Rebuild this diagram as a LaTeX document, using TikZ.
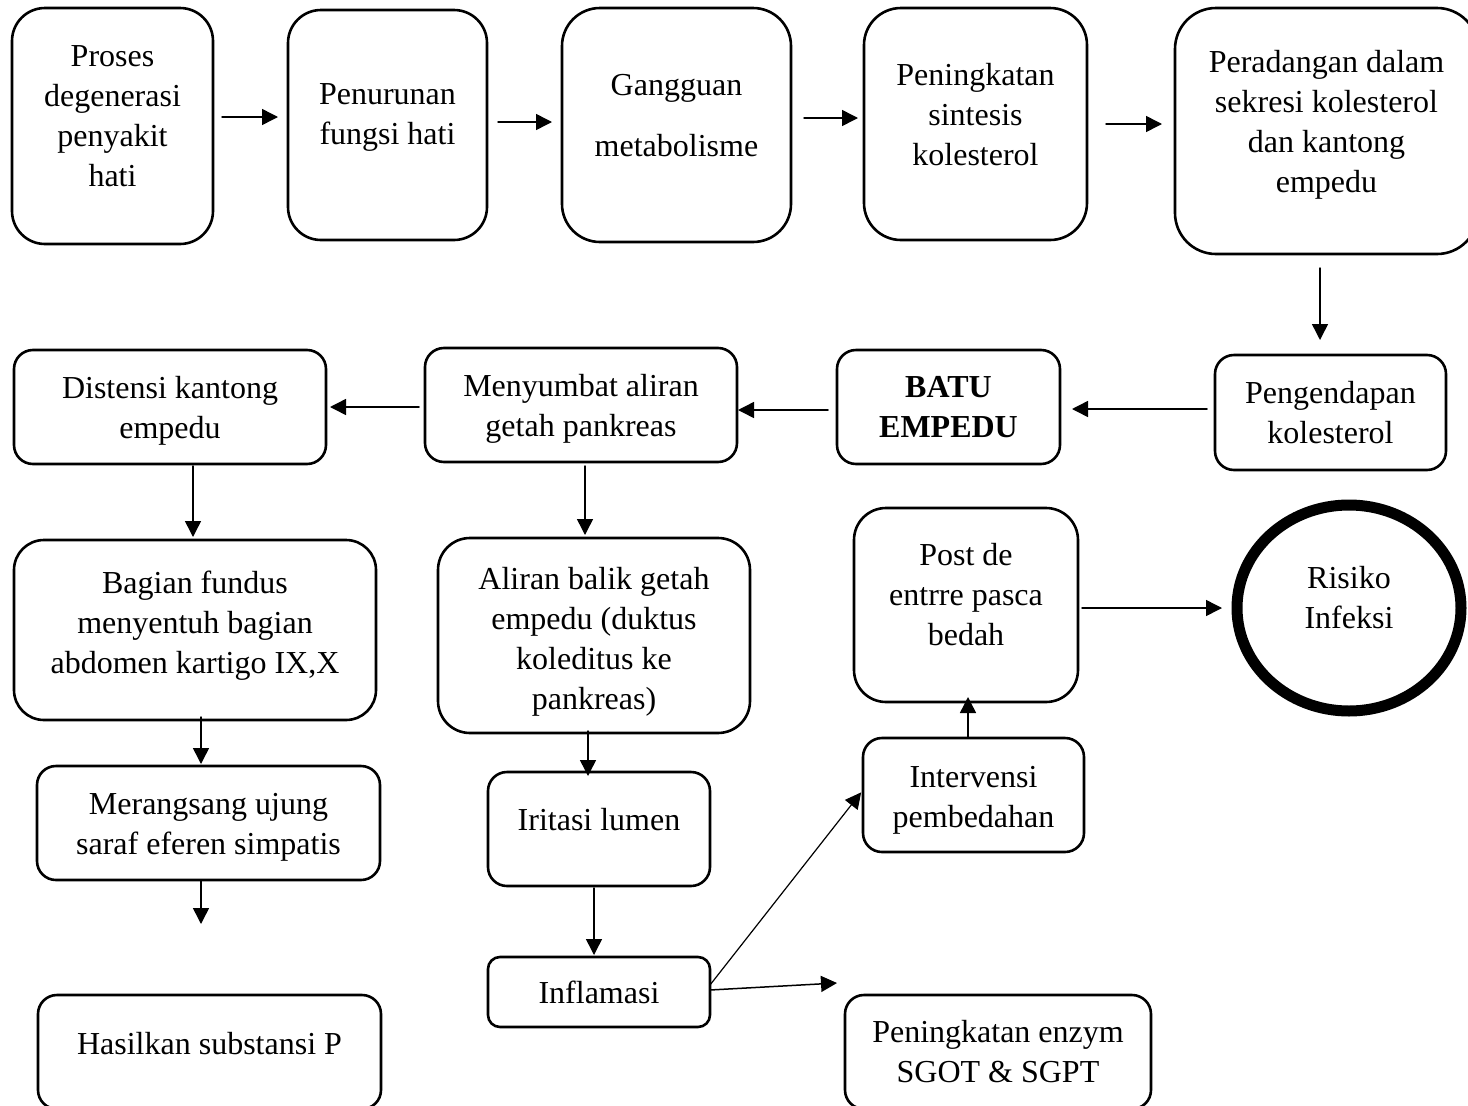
\documentclass[tikz,border=0pt]{standalone}
\usepackage{fontspec}
\setmainfont{Liberation Serif}
\usetikzlibrary{arrows.meta,shapes.geometric}
\newcommand\turun[1]{\rule[-#1pt]{0pt}{#1pt}}
\newcommand\atas[1]{\rule{0pt}{#1pt}}
\begin{document}
\begin{tikzpicture}[x=1pt,y=-1pt,line cap=round,line join=round,
  kotak/.style={draw,line width=2.6pt,align=center,inner sep=0pt,outer sep=0pt,font=\fontsize{32}{40}\selectfont},
  bulat/.style={draw,ellipse,line width=11pt,align=center,inner sep=0pt,outer sep=0pt,font=\fontsize{32}{40}\selectfont},
  panah/.style={-{Triangle[length=16pt,width=16pt]},line width=1.5pt}]
\useasboundingbox (0,0) rectangle (1468,1106);
\clip (0,0) rectangle (1468,1106);
\node[kotak,minimum width=201pt,minimum height=236pt,rounded corners=33pt] (p1) at (112.5,126) {Proses\\degenerasi\\penyakit\\hati\turun{19}};
\node[kotak,minimum width=199pt,minimum height=230pt,rounded corners=33pt] (p2) at (387.5,125) {Penurunan\\fungsi hati\turun{21}};
\node[kotak,minimum width=229pt,minimum height=234pt,rounded corners=38pt] (p3) at (676.5,125) {Gangguan\\[21pt]metabolisme\turun{19}};
\node[kotak,minimum width=223pt,minimum height=232pt,rounded corners=37pt] (p4) at (975.5,124) {Peningkatan\\sintesis\\kolesterol\turun{20}};
\node[kotak,minimum width=303pt,minimum height=246pt,rounded corners=41pt] (p5) at (1326.5,131) {Peradangan dalam\\sekresi kolesterol\\dan kantong\\empedu\turun{19}};
\node[kotak,minimum width=231pt,minimum height=115pt,rounded corners=19pt] (p6) at (1330.5,412.5) {Pengendapan\\kolesterol};
\node[kotak,minimum width=223pt,minimum height=114pt,rounded corners=19pt,font=\fontsize{32}{40}\selectfont\bfseries] (p7) at (948.5,407) {BATU\\EMPEDU};
\node[kotak,minimum width=312pt,minimum height=114pt,rounded corners=19pt] (p8) at (581,405) {\atas{30}Menyumbat aliran\\getah pankreas};
\node[kotak,minimum width=312pt,minimum height=114pt,rounded corners=19pt] (p9) at (170,407) {\atas{30}Distensi kantong\\empedu};
\node[kotak,minimum width=362pt,minimum height=180pt,rounded corners=30pt] (p10) at (195,630) {Bagian fundus\\menyentuh bagian\\abdomen kartigo IX,X\turun{15}};
\node[kotak,minimum width=312pt,minimum height=195pt,rounded corners=32pt] (p11) at (594,635.5) {\atas{34}Aliran balik getah\\empedu (duktus\\koleditus ke\\pankreas)};
\node[kotak,minimum width=224pt,minimum height=194pt,rounded corners=32pt] (p12) at (966,605) {Post de\\entrre pasca\\bedah\turun{21}};
\node[bulat,minimum width=224pt,minimum height=206pt] (p13) at (1349,608) {Risiko\\Infeksi\turun{21}};
\node[kotak,minimum width=343pt,minimum height=114pt,rounded corners=19pt] (p14) at (208.5,823) {\atas{30}Merangsang ujung\\saraf eferen simpatis};
\node[kotak,minimum width=222pt,minimum height=114pt,rounded corners=19pt] (p15) at (599,829) {Iritasi lumen\turun{20}};
\node[kotak,minimum width=221pt,minimum height=114pt,rounded corners=19pt] (p16) at (973.5,795) {\atas{32}Intervensi\\pembedahan};
\node[kotak,minimum width=343pt,minimum height=114pt,rounded corners=19pt] (p17) at (209.5,1052) {Hasilkan substansi P\turun{18}};
\node[kotak,minimum width=222pt,minimum height=70pt,rounded corners=12pt] (p18) at (599,992) {Inflamasi};
\node[kotak,minimum width=306pt,minimum height=114pt,rounded corners=19pt] (p19) at (998,1052) {Peningkatan enzym\\SGOT \& SGPT};
\coordinate (u1) at (201,924);
\draw[panah,shorten <=9pt,shorten >=10pt] ([yshift=9pt]p1.east) -- ([yshift=8pt]p2.west);
\draw[panah,shorten <=11pt,shorten >=10pt] ([yshift=3pt]p2.east) -- ([yshift=3pt]p3.west);
\draw[panah,shorten <=13pt,shorten >=6pt] ([yshift=7pt]p3.east) -- ([yshift=6pt]p4.west);
\draw[panah,shorten <=19pt,shorten >=13pt] (p4.east) -- ([yshift=7pt]p5.west);
\draw[panah,shorten <=14pt,shorten >=15pt] ([xshift=-6.5pt]p5.south) -- ([xshift=-10.5pt]p6.north);
\draw[panah,shorten <=8pt,shorten >=12pt] ([yshift=3.5pt]p6.west) -- ([yshift=-2pt]p7.east);
\draw[panah,shorten <=9pt,shorten >=1pt] ([yshift=-3pt]p7.west) -- ([yshift=-5pt]p8.east);
\draw[panah,shorten <=6pt,shorten >=4pt] ([yshift=-2pt]p8.west) -- (p9.east);
\draw[panah,shorten <=2pt,shorten >=3pt] ([xshift=23pt]p9.south) -- ([xshift=-2pt]p10.north);
\draw[panah,shorten <=4pt,shorten >=3pt] ([xshift=4pt]p8.south) -- ([xshift=-9pt]p11.north);
\draw[panah,shorten <=-3pt,shorten >=2pt] ([xshift=6pt]p10.south) -- ([xshift=-7.5pt]p14.north);
\draw[panah,shorten <=-2pt,shorten >=-4pt] ([xshift=-6pt]p11.south) -- ([xshift=-11pt]p15.north);
\draw[panah] ([xshift=-7.5pt]p14.south) -- (u1);
\draw[panah,shorten <=2pt,shorten >=2pt] ([xshift=-5pt]p15.south) -- ([xshift=-5pt]p18.north);
\draw[panah,line width=1.2pt,shorten >=3pt] ([yshift=7pt]p18.east) -- ([yshift=5pt]p16.west);
\draw[panah] ([yshift=2pt]p18.east) -- ([xshift=-8pt,yshift=12pt]p19.north west);
\draw[panah,shorten >=-5pt] ([xshift=-5.5pt]p16.north) -- ([xshift=2pt]p12.south);
\draw[panah,shorten <=4pt,shorten >=15pt] ([yshift=-3pt]p12.east) -- (p13.west);
\end{tikzpicture}
\end{document}
